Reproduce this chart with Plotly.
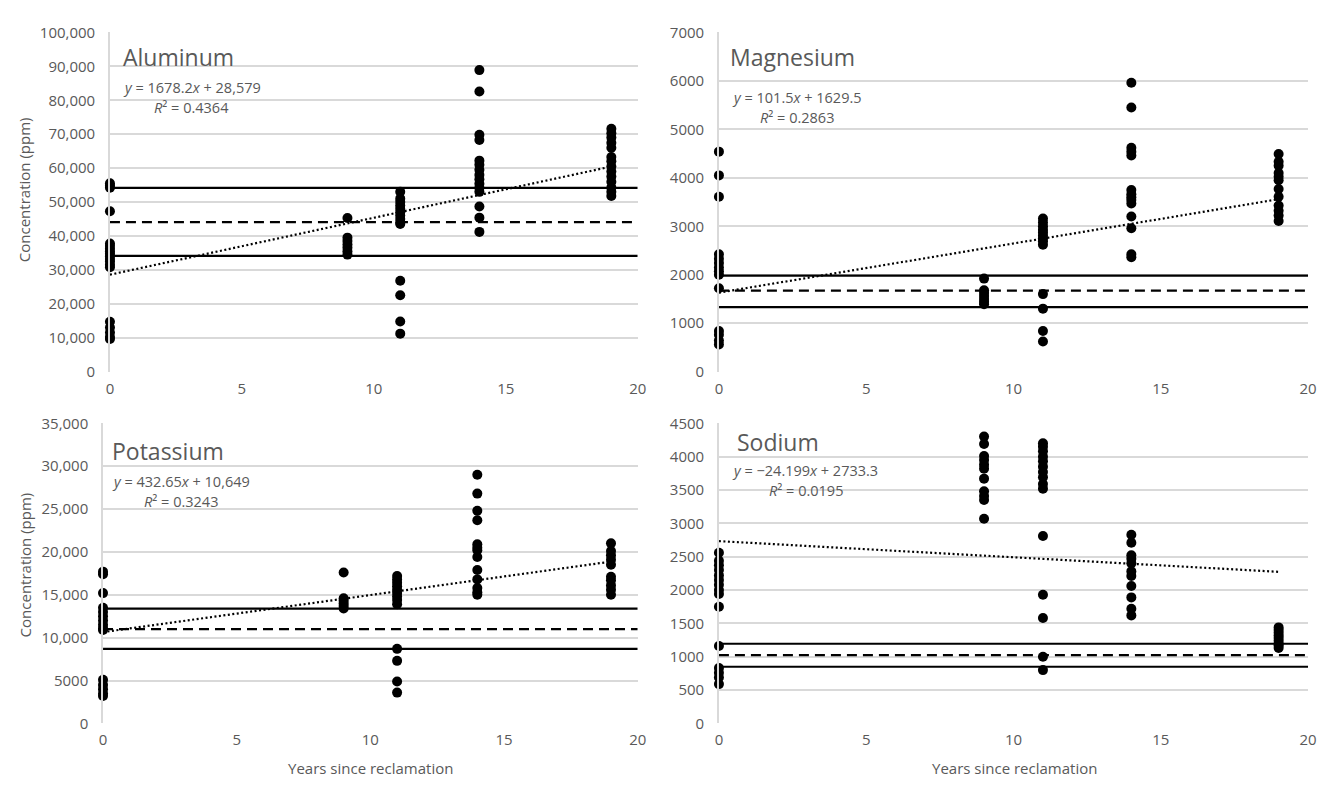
import plotly.graph_objects as go

# ---------------- data ----------------
years = [0, 9, 11, 14, 19]

al_0 = [55500, 54800, 54200, 47300, 37800, 37000, 36200, 35500, 34800, 34000, 33200, 32500, 31500, 30800, 14700, 13000, 11500, 10200, 9600]
al_9 = [45300, 39500, 38500, 37500, 36500, 35500, 34500]
al_11 = [53000, 51000, 50000, 49000, 48000, 47000, 46000, 45000, 44000, 43500, 26800, 22500, 14800, 11200]
al_14 = [88900, 82600, 69800, 68300, 62200, 61000, 59500, 58000, 56700, 55400, 54200, 53000, 48700, 45400, 41200]
al_19 = [71600, 70300, 69000, 67500, 66000, 63300, 62000, 60500, 59000, 57500, 56000, 54300, 53000, 51800]
al_ref = [54200, 44100, 34100]  # upper, mean, lower
al_fit = [1678.2, 28579]

mg_0 = [4540, 4050, 3610, 2420, 2330, 2240, 2150, 2070, 2000, 1720, 840, 760, 640, 560]
mg_9 = [1920, 1680, 1620, 1560, 1500, 1440, 1390]
mg_11 = [3160, 3080, 3000, 2930, 2870, 2810, 2750, 2690, 2620, 1600, 1300, 840, 620]
mg_14 = [5960, 5450, 4620, 4540, 4460, 3750, 3660, 3600, 3540, 3470, 3200, 2960, 2420, 2360]
mg_19 = [4490, 4330, 4250, 4100, 4020, 3950, 3770, 3610, 3430, 3320, 3220, 3110]
mg_ref = [1980, 1670, 1330]
mg_fit = [101.5, 1629.5]

k_0 = [17700, 17400, 15200, 13500, 13000, 12500, 12000, 11500, 11100, 10900, 5100, 4500, 4000, 3500, 3200]
k_9 = [17600, 14600, 14300, 14000, 13700, 13400]
k_11 = [17200, 16800, 16400, 16000, 15600, 15200, 14800, 14400, 13900, 8700, 7300, 4900, 3600]
k_14 = [29000, 26800, 24800, 23700, 20900, 20500, 20200, 19400, 17900, 16800, 15800, 15300, 15000]
k_19 = [21000, 20100, 19600, 19100, 18500, 17100, 16700, 16100, 15600, 15000]
k_ref = [13400, 11000, 8700]
k_fit = [432.65, 10649]

na_0 = [2560, 2440, 2370, 2300, 2220, 2150, 2080, 2000, 1940, 1750, 1160, 830, 760, 690, 590]
na_9 = [4300, 4190, 4010, 3950, 3880, 3820, 3670, 3480, 3410, 3350, 3070]
na_11 = [4200, 4150, 4080, 4000, 3930, 3850, 3770, 3690, 3590, 3520, 2810, 1930, 1580, 1000, 800]
na_14 = [2830, 2710, 2520, 2470, 2400, 2280, 2210, 2060, 1890, 1720, 1620]
na_19 = [1440, 1400, 1360, 1320, 1280, 1240, 1200, 1170, 1130]
na_ref = [1195, 1025, 850]
na_fit = [-24.199, 2733.3]

names = ["Aluminum", "Magnesium", "Potassium", "Sodium"]
eq_text = ["<i>y</i> = 1678.2<i>x</i> + 28,579", "<i>y</i> = 101.5<i>x</i> + 1629.5",
           "<i>y</i> = 432.65<i>x</i> + 10,649", "<i>y</i> = \u221224.199<i>x</i> + 2733.3"]
r2_text = ["<i>R</i>\u00b2 = 0.4364", "<i>R</i>\u00b2 = 0.2863", "<i>R</i>\u00b2 = 0.3243", "<i>R</i>\u00b2 = 0.0195"]

al_ticks = [0, 10000, 20000, 30000, 40000, 50000, 60000, 70000, 80000, 90000, 100000]
al_labels = ["0", "10,000", "20,000", "30,000", "40,000", "50,000", "60,000", "70,000", "80,000", "90,000", "100,000"]
mg_ticks = [0, 1000, 2000, 3000, 4000, 5000, 6000, 7000]
mg_labels = ["0", "1000", "2000", "3000", "4000", "5000", "6000", "7000"]
k_ticks = [0, 5000, 10000, 15000, 20000, 25000, 30000, 35000]
k_labels = ["0", "5000", "10,000", "15,000", "20,000", "25,000", "30,000", "35,000"]
na_ticks = [0, 500, 1000, 1500, 2000, 2500, 3000, 3500, 4000, 4500]
na_labels = ["0", "500", "1000", "1500", "2000", "2500", "3000", "3500", "4000", "4500"]
x_ticks = [0, 5, 10, 15, 20]

# ---------------- figure ----------------
W, H = 1326, 789
GRAY = "#595959"
GRID = "#d9d9d9"
FONT = "Open Sans"

panels = [
    dict(groups=[al_0, al_9, al_11, al_14, al_19], ref=al_ref, fit=al_fit, ticks=al_ticks, labels=al_labels,
         px=(107, 640), py=(22, 370), title=(0.021, 0.928), eq=(0.021, 0.839), r2=(0.079, 0.778)),
    dict(groups=[mg_0, mg_9, mg_11, mg_14, mg_19], ref=mg_ref, fit=mg_fit, ticks=mg_ticks, labels=mg_labels,
         px=(722, 1317), py=(22, 370), title=(0.015, 0.928), eq=(0.018, 0.809), r2=(0.066, 0.749)),
    dict(groups=[k_0, k_9, k_11, k_14, k_19], ref=k_ref, fit=k_fit, ticks=k_ticks, labels=k_labels,
         px=(100, 640), py=(423, 731), title=(0.013, 0.908), eq=(0.013, 0.806), r2=(0.072, 0.738)),
    dict(groups=[na_0, na_9, na_11, na_14, na_19], ref=na_ref, fit=na_fit, ticks=na_ticks, labels=na_labels,
         px=(722, 1317), py=(423, 731), title=(0.027, 0.939), eq=(0.018, 0.844), r2=(0.081, 0.775)),
]

fig = go.Figure()
annotations = []
layout = dict(
    width=W, height=H, margin=dict(l=0, r=0, t=0, b=0),
    paper_bgcolor="white", plot_bgcolor="white", showlegend=False,
    font=dict(family=FONT, color=GRAY, size=15),
)

for i, p in enumerate(panels):
    n = i + 1
    xa = "x" if n == 1 else f"x{n}"
    ya = "y" if n == 1 else f"y{n}"
    xkey = "xaxis" if n == 1 else f"xaxis{n}"
    ykey = "yaxis" if n == 1 else f"yaxis{n}"

    layout[xkey] = dict(
        domain=[p["px"][0] / W, p["px"][1] / W], anchor=ya, range=[0, 20],
        tickvals=x_ticks, showgrid=False, zeroline=False, showline=False,
        ticks="", ticklabelstandoff=6, tickfont=dict(size=15, color=GRAY, family=FONT),
    )
    layout[ykey] = dict(
        domain=[1 - p["py"][1] / H, 1 - p["py"][0] / H], anchor=xa,
        range=[0, p["ticks"][-1]], tickvals=p["ticks"], ticktext=p["labels"],
        showgrid=True, gridcolor=GRID, gridwidth=1.5, zeroline=False,
        showline=True, linecolor=GRID, linewidth=1.5, ticks="", ticklabelstandoff=10,
        tickfont=dict(size=15, color=GRAY, family=FONT),
    )

    # reference lines: upper (solid), mean (dashed), lower (solid)
    for j, v in enumerate(p["ref"]):
        fig.add_trace(go.Scatter(
            x=[0, 20], y=[v, v], mode="lines", xaxis=xa, yaxis=ya, hoverinfo="skip",
            line=dict(color="black", width=2.2, dash="10px,6px" if j == 1 else "solid"),
        ))

    # data points
    for yr, vals in zip(years, p["groups"]):
        fig.add_trace(go.Scatter(
            x=[yr] * len(vals), y=vals, mode="markers", xaxis=xa, yaxis=ya, cliponaxis=False,
            marker=dict(color="black", size=10, line=dict(width=0)),
        ))

    # linear trendline from displayed equation
    a, b = p["fit"]
    fig.add_trace(go.Scatter(
        x=[years[0], years[-1]], y=[a * years[0] + b, a * years[-1] + b], mode="lines",
        xaxis=xa, yaxis=ya, hoverinfo="skip",
        line=dict(color="black", width=2.2, dash="2px,2.5px"),
    ))

    dref_x = f"{xa} domain"
    dref_y = f"{ya} domain"
    annotations.append(dict(text=names[i], xref=dref_x, yref=dref_y, x=p["title"][0], y=p["title"][1],
                            xanchor="left", yanchor="middle", showarrow=False,
                            font=dict(size=23, color=GRAY, family=FONT)))
    annotations.append(dict(text=eq_text[i], xref=dref_x, yref=dref_y, x=p["eq"][0], y=p["eq"][1],
                            xanchor="left", yanchor="middle", showarrow=False,
                            font=dict(size=14.5, color=GRAY, family=FONT)))
    annotations.append(dict(text=r2_text[i], xref=dref_x, yref=dref_y, x=p["r2"][0], y=p["r2"][1],
                            xanchor="left", yanchor="middle", showarrow=False,
                            font=dict(size=14.5, color=GRAY, family=FONT)))

# axis titles
for yc in (183, 568):
    annotations.append(dict(text="Concentration (ppm)", xref="paper", yref="paper", x=21 / W, y=1 - yc / H,
                            xanchor="center", yanchor="middle", textangle=-90, showarrow=False,
                            font=dict(size=15, color=GRAY, family=FONT)))
for xc in (370, 1020):
    annotations.append(dict(text="Years since reclamation", xref="paper", yref="paper", x=xc / W, y=1 - 777 / H,
                            xanchor="center", yanchor="middle", showarrow=False,
                            font=dict(size=15, color=GRAY, family=FONT)))

layout["annotations"] = annotations
fig.update_layout(**layout)
fig.write_html("out.html", config={"displayModeBar": False},
               post_script="document.body.style.margin='0px';")
